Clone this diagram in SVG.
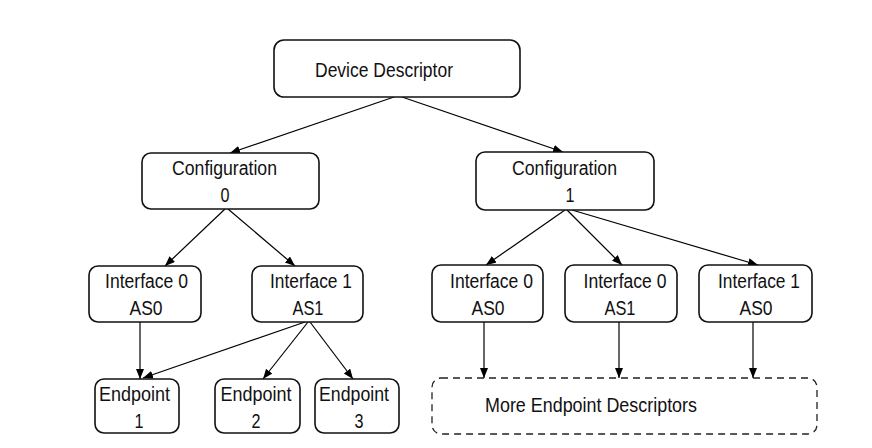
<svg xmlns="http://www.w3.org/2000/svg" width="872" height="448" viewBox="0 0 872 448">
  <defs>
    <marker id="arrow" markerUnits="userSpaceOnUse" markerWidth="11" markerHeight="9" refX="10" refY="4" orient="auto">
      <path d="M0,0 L10,4 L0,8 Z" fill="#000"/>
    </marker>
    <style>
      .box { fill: #fff; stroke: #111; stroke-width: 1.6; }
      .dash { fill: #fff; stroke: #222; stroke-width: 1.3; stroke-dasharray: 7 5; }
      .lbl { font-family: "Liberation Sans", Arial, sans-serif; font-size: 20px; fill: #111; text-anchor: middle; }
      .edge { stroke: #000; stroke-width: 1.2; fill: none; marker-end: url(#arrow); }
    </style>
  </defs>
  <rect width="872" height="448" fill="#fff"/>

  <!-- connectors -->
  <g id="connectors">
    <line class="edge" x1="394" y1="97" x2="230" y2="153"/>
    <line class="edge" x1="402" y1="97" x2="563" y2="152"/>
    <line class="edge" x1="225" y1="209" x2="165" y2="266"/>
    <line class="edge" x1="228" y1="209" x2="295" y2="266"/>
    <line class="edge" x1="565" y1="210" x2="486" y2="265"/>
    <line class="edge" x1="567" y1="210" x2="622" y2="265"/>
    <line class="edge" x1="572" y1="210" x2="758" y2="265"/>
    <line class="edge" x1="140" y1="322" x2="140" y2="379"/>
    <line class="edge" x1="305" y1="322" x2="143" y2="378"/>
    <line class="edge" x1="308" y1="322" x2="263" y2="379"/>
    <line class="edge" x1="310" y1="322" x2="353" y2="379"/>
    <line class="edge" x1="484" y1="322" x2="484" y2="378"/>
    <line class="edge" x1="619" y1="322" x2="619" y2="378"/>
    <line class="edge" x1="753" y1="322" x2="753" y2="378"/>
  </g>

  <!-- root -->
  <g id="device">
    <rect class="box" x="274" y="40" width="246" height="57" rx="10"/>
    <text class="lbl" x="384" y="77" textLength="138" lengthAdjust="spacingAndGlyphs">Device Descriptor</text>
  </g>

  <!-- configurations -->
  <g id="config0">
    <rect class="box" x="142" y="153" width="177" height="56" rx="9"/>
    <text class="lbl" x="224.5" y="175" textLength="105" lengthAdjust="spacingAndGlyphs">Configuration</text>
    <text class="lbl" x="225" y="202" textLength="9" lengthAdjust="spacingAndGlyphs">0</text>
  </g>
  <g id="config1">
    <rect class="box" x="476" y="152" width="178" height="58" rx="9"/>
    <text class="lbl" x="564.5" y="175" textLength="105" lengthAdjust="spacingAndGlyphs">Configuration</text>
    <text class="lbl" x="570" y="202" textLength="9" lengthAdjust="spacingAndGlyphs">1</text>
  </g>

  <!-- interfaces of configuration 0 -->
  <g id="c0-if0-as0">
    <rect class="box" x="89" y="266" width="112" height="56" rx="9"/>
    <text class="lbl" x="146.5" y="288" textLength="83" lengthAdjust="spacingAndGlyphs">Interface 0</text>
    <text class="lbl" x="146" y="315" textLength="33" lengthAdjust="spacingAndGlyphs">AS0</text>
  </g>
  <g id="c0-if1-as1">
    <rect class="box" x="252" y="266" width="111" height="56" rx="9"/>
    <text class="lbl" x="311" y="288" textLength="82" lengthAdjust="spacingAndGlyphs">Interface 1</text>
    <text class="lbl" x="308" y="315" textLength="31" lengthAdjust="spacingAndGlyphs">AS1</text>
  </g>

  <!-- interfaces of configuration 1 -->
  <g id="c1-if0-as0">
    <rect class="box" x="432" y="265" width="111" height="57" rx="9"/>
    <text class="lbl" x="491.5" y="288" textLength="83" lengthAdjust="spacingAndGlyphs">Interface 0</text>
    <text class="lbl" x="488" y="315" textLength="33" lengthAdjust="spacingAndGlyphs">AS0</text>
  </g>
  <g id="c1-if0-as1">
    <rect class="box" x="565" y="265" width="112" height="57" rx="9"/>
    <text class="lbl" x="625" y="288" textLength="83" lengthAdjust="spacingAndGlyphs">Interface 0</text>
    <text class="lbl" x="620" y="315" textLength="31" lengthAdjust="spacingAndGlyphs">AS1</text>
  </g>
  <g id="c1-if1-as0">
    <rect class="box" x="699" y="265" width="113" height="57" rx="9"/>
    <text class="lbl" x="759" y="288" textLength="82" lengthAdjust="spacingAndGlyphs">Interface 1</text>
    <text class="lbl" x="756" y="315" textLength="33" lengthAdjust="spacingAndGlyphs">AS0</text>
  </g>

  <!-- endpoints -->
  <g id="endpoint1">
    <rect class="box" x="95" y="379" width="84" height="54" rx="9"/>
    <text class="lbl" x="134.5" y="401" textLength="71" lengthAdjust="spacingAndGlyphs">Endpoint</text>
    <text class="lbl" x="139" y="428" textLength="9" lengthAdjust="spacingAndGlyphs">1</text>
  </g>
  <g id="endpoint2">
    <rect class="box" x="215" y="379" width="85" height="54" rx="9"/>
    <text class="lbl" x="256" y="401" textLength="71" lengthAdjust="spacingAndGlyphs">Endpoint</text>
    <text class="lbl" x="256" y="428" textLength="9" lengthAdjust="spacingAndGlyphs">2</text>
  </g>
  <g id="endpoint3">
    <rect class="box" x="315" y="379" width="84" height="54" rx="9"/>
    <text class="lbl" x="354" y="401" textLength="70" lengthAdjust="spacingAndGlyphs">Endpoint</text>
    <text class="lbl" x="359" y="428" textLength="9" lengthAdjust="spacingAndGlyphs">3</text>
  </g>

  <!-- remaining endpoints of configuration 1 -->
  <g id="more-endpoints">
    <rect class="dash" x="432" y="378" width="385" height="56" rx="9"/>
    <text class="lbl" x="591" y="412" textLength="212" lengthAdjust="spacingAndGlyphs">More Endpoint Descriptors</text>
  </g>
</svg>
